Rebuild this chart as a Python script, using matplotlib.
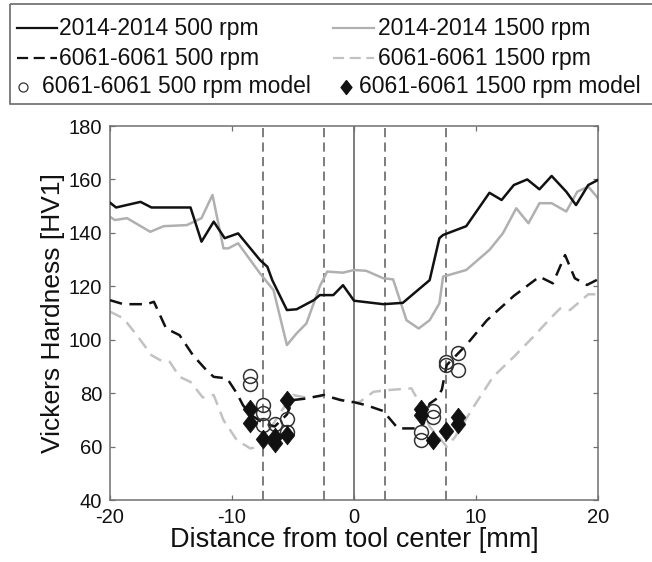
import matplotlib
matplotlib.use("Agg")
import matplotlib.pyplot as plt
from matplotlib.patches import Rectangle
from matplotlib.lines import Line2D

plt.rcParams['font.family'] = ['Liberation Sans', 'DejaVu Sans']

# ---------------- data ----------------
x_2014_500 = [-20, -19.5, -17.5, -16.6, -13.4, -12.5, -11.5, -10.6, -9.5, -7.7, -7.1, -6.7, -5.5, -4.7,
              -3.3, -2.8, -1.7, -0.9, 0, 2.4, 4.0, 6.2, 7.0, 7.3, 9.2, 11.1, 12.1, 13.1, 14.2, 15.2,
              16.2, 17.4, 18.2, 19.2, 20]
y_2014_500 = [151.3, 149.5, 151.6, 149.5, 149.5, 136.7, 144.2, 138.0, 139.8, 129.8, 127.3, 122.3, 111.1,
              111.4, 114.8, 116.7, 116.7, 120.4, 114.6, 113.3, 113.8, 122.3, 138.0, 139.2, 142.5, 155.0,
              152.3, 157.9, 160.0, 156.3, 161.3, 155.4, 150.4, 157.9, 159.8]

x_2014_1500 = [-20, -19.6, -18.6, -16.7, -15.6, -13.7, -12.5, -11.6, -10.7, -10.3, -9.5, -7.7, -6.6, -5.5,
               -4.7, -3.9, -2.8, -2.2, -0.9, 0, 1.0, 2.4, 3.2, 3.4, 4.3, 5.3, 6.2, 7.0, 7.3, 9.2, 11.1,
               12.2, 13.3, 14.3, 15.2, 16.2, 17.4, 18.3, 19.2, 20]
y_2014_1500 = [146.0, 144.8, 145.5, 140.4, 142.5, 142.9, 145.5, 154.2, 134.2, 134.2, 136.1, 124.8, 118.6,
               98.0, 102.4, 106.1, 120.0, 125.5, 125.1, 126.1, 125.8, 123.0, 122.6, 119.9, 107.3, 104.2,
               107.3, 113.6, 123.6, 126.1, 133.6, 139.8, 149.2, 143.6, 151.1, 151.1, 148.0, 155.4,
               157.3, 153.0]

x_6061_500 = [-20, -18.9, -17.0, -16.4, -15.4, -14.3, -13.2, -12.1, -11.5, -10.4, -9.6, -9.1, -8.5, -7.5,
              -6.5, -5.5, -5.0, -3.9, -2.5, -1.1, 0, 1.0, 2.4, 3.6, 5.1, 5.7, 6.2, 6.8, 7.2, 7.6, 9.2,
              10.9, 13.1, 15.2, 16.3, 17.3, 18.1, 19.1, 20]
y_6061_500 = [114.8, 113.3, 113.3, 114.2, 104.2, 101.7, 94.2, 88.6, 86.1, 85.5, 79.9, 75.5, 72.0, 69.0,
              67.5, 72.0, 77.4, 78.0, 79.3, 77.4, 76.6, 75.5, 73.3, 66.8, 66.8, 68.5, 76.1, 78.0, 81.3,
              90.5, 98.0, 107.3, 116.4, 123.6, 121.1, 131.7, 123.0, 120.5, 122.6]

x_6061_1500 = [-20, -18.9, -17.8, -16.6, -15.9, -15.1, -14.3, -13.4, -12.4, -11.5, -10.7, -9.6, -8.5, -7.7,
               -6.1, -5.0, -3.9, -2.5, -1.1, 0, 0.5, 1.6, 2.7, 4.7, 5.4, 6.2, 7.6, 8.3, 9.8, 11.4, 13.1,
               14.7, 16.1, 16.9, 17.7, 18.5, 19.2, 20]
y_6061_1500 = [110.5, 108.0, 101.7, 94.2, 92.4, 91.7, 86.1, 84.2, 78.4, 79.3, 69.9, 62.4, 59.3, 60.0,
               72.4, 79.3, 78.3, 79.0, 77.6, 76.4, 76.8, 80.5, 81.1, 81.8, 76.1, 67.5, 60.0, 63.7, 74.9,
               86.1, 93.6, 101.1, 108.0, 111.7, 111.1, 114.2, 117.0, 117.0]

model_500_x = [-8.5, -8.5, -7.5, -7.5, -7.5, -6.5, -5.5, -5.5, 5.5, 5.5, 6.5, 6.5, 7.5, 7.5, 8.5, 8.5]
model_500_y = [86.5, 83.5, 75.5, 72.5, 68.0, 68.5, 70.5, 65.5, 65.5, 62.5, 73.5, 71.0, 91.5, 90.5, 95.0, 88.5]

model_1500_x = [-8.5, -8.5, -7.5, -6.5, -6.5, -5.5, -5.5, 5.5, 5.5, 6.5, 7.5, 8.5, 8.5]
model_1500_y = [74.0, 69.0, 63.0, 63.5, 61.5, 77.5, 64.5, 74.0, 72.0, 62.5, 66.0, 71.0, 68.5]

zone_lines = [-7.5, -2.5, 2.5, 7.5]
center_line = 0

x_ticks = [-20, -10, 0, 10, 20]
y_ticks = [40, 60, 80, 100, 120, 140, 160, 180]

labels = ["2014-2014 500 rpm", "2014-2014 1500 rpm",
          "6061-6061 500 rpm", "6061-6061 1500 rpm",
          "6061-6061 500 rpm model", "6061-6061 1500 rpm model"]

# ---------------- styles ----------------
W, H = 652, 562
BLACK = '#111111'
GRAY_SOLID = '#b0b0b0'
GRAY_DASH = '#c2c2c2'
AX_GRAY = '#707070'
diamond = [(0, 1), (0.78, 0), (0, -1), (-0.78, 0), (0, 1)]

fig = plt.figure(figsize=(W / 100, H / 100), dpi=100)
ax = fig.add_axes([110 / W, 62 / H, 488 / W, 374 / H])

for v in zone_lines:
    ax.axvline(v, color='#5a5a5a', lw=1.1, ls=(0, (6, 3.5)), zorder=1)
ax.axvline(center_line, color='#5a5a5a', lw=1.1, zorder=1)

ax.plot(x_2014_1500, y_2014_1500, color=GRAY_SOLID, lw=1.8, zorder=2)
ax.plot(x_6061_1500, y_6061_1500, color=GRAY_DASH, lw=1.8, ls=(0, (5, 3)), zorder=2)
ax.plot(x_2014_500, y_2014_500, color=BLACK, lw=1.8, zorder=3)
ax.plot(x_6061_500, y_6061_500, color=BLACK, lw=1.8, ls=(0, (5, 3)), zorder=3)

ax.plot(model_500_x, model_500_y, ls='none', marker='o', ms=10, mfc='none', mec='#333333', mew=1.1, zorder=4)
ax.plot(model_1500_x, model_1500_y, ls='none', marker=diamond, ms=13.5, mfc=BLACK, mec=BLACK, mew=0.5, zorder=4)

ax.set_xlim(-20, 20)
ax.set_ylim(40, 180)
ax.set_xticks(x_ticks)
ax.set_yticks(y_ticks)
ax.set_xticklabels([str(t) for t in x_ticks])
ax.set_yticklabels([str(t) for t in y_ticks])
ax.tick_params(direction='in', length=3.5, width=0.9, color=AX_GRAY, labelsize=14.5,
               top=True, right=True, pad=5.5, labelcolor='#111111')
for s in ax.spines.values():
    s.set_color(AX_GRAY)
    s.set_linewidth(1.1)

ax.set_xlabel("Distance from tool center [mm]", fontsize=19.5, color='#111111', labelpad=0)
ax.set_ylabel("Vickers Hardness [HV1]", fontsize=19, color='#111111', labelpad=3)

# ---------------- legend (drawn in pixel coordinates) ----------------
lax = fig.add_axes([0, 0, 1, 1])
lax.set_xlim(0, W)
lax.set_ylim(H, 0)
lax.axis('off')
lax.add_patch(Rectangle((10, 4), 660, 100, fill=False, edgecolor='#6a6a6a', lw=1.2))

rows = [28, 58, 87]
LFS = 16.5
# column 1
lax.add_line(Line2D([17, 57], [rows[0]] * 2, color=BLACK, lw=1.6))
lax.text(59, rows[0], labels[0], fontsize=LFS, va='center', ha='left', color='#111111')
lax.add_line(Line2D([17, 57], [rows[1]] * 2, color=BLACK, lw=1.6, ls=(0, (5, 2.5))))
lax.text(59, rows[1], labels[2], fontsize=LFS, va='center', ha='left', color='#111111')
lax.add_line(Line2D([23], [rows[2]], ls='none', marker='o', ms=6.5, mfc='none', mec='#333333', mew=0.9))
lax.text(42, rows[2], labels[4], fontsize=LFS, va='center', ha='left', color='#111111')
# column 2
lax.add_line(Line2D([333, 374], [rows[0]] * 2, color=GRAY_SOLID, lw=1.6))
lax.text(378, rows[0], labels[1], fontsize=LFS, va='center', ha='left', color='#111111')
lax.add_line(Line2D([333, 374], [rows[1]] * 2, color=GRAY_DASH, lw=1.6, ls=(0, (5, 2.5))))
lax.text(378, rows[1], labels[3], fontsize=LFS, va='center', ha='left', color='#111111')
lax.add_line(Line2D([346], [rows[2]], ls='none', marker=diamond, ms=10, mfc=BLACK, mec=BLACK))
lax.text(359, rows[2], labels[5], fontsize=LFS, va='center', ha='left', color='#111111')

fig.savefig("out.png", dpi=100, facecolor='white')
